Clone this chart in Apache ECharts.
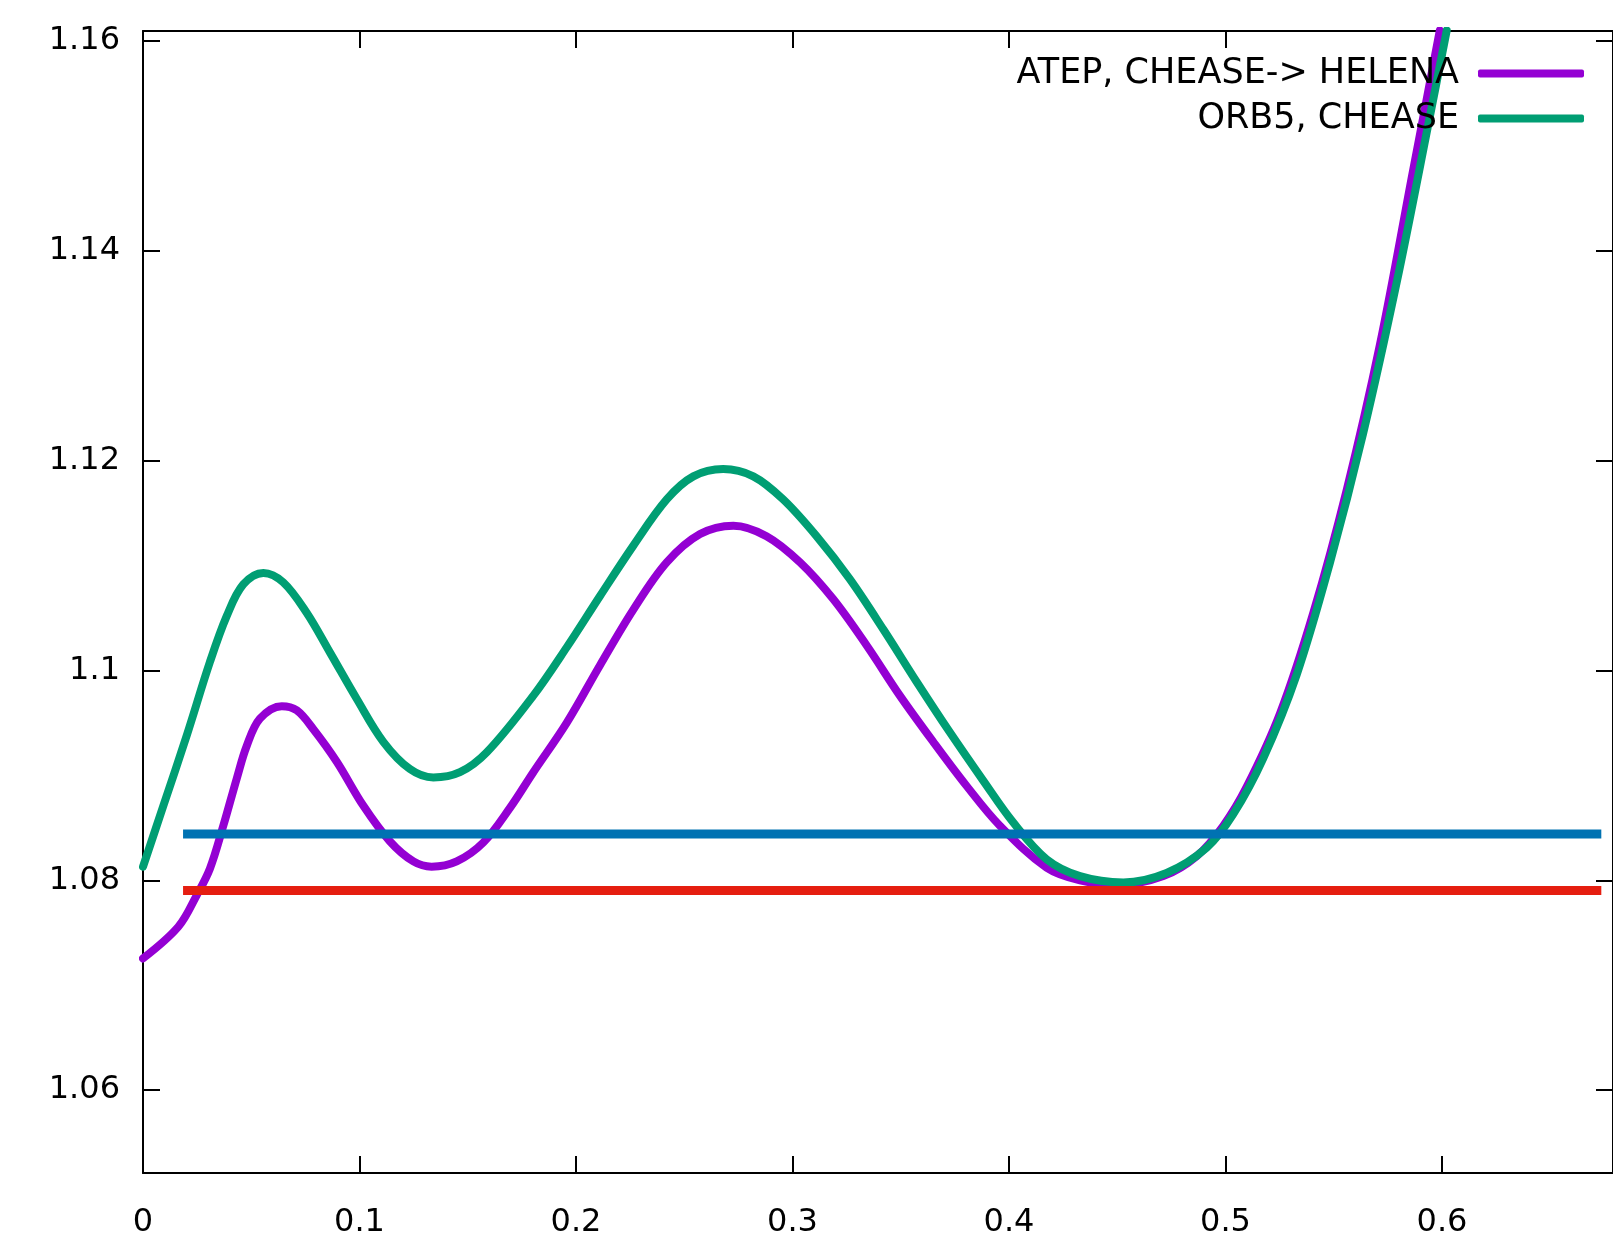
<!DOCTYPE html>
<html>
<head>
<meta charset="utf-8">
<script src="https://cdn.jsdelivr.net/npm/echarts@6/dist/echarts.min.js"></script>
<style>
html,body{margin:0;padding:0;background:#fff;}
#chart{width:1613px;height:1239px;}
</style>
</head>
<body>
<div id="chart"></div>
<script>
// ---- data ----
const atepName = 'ATEP, CHEASE-> HELENA';
const orb5Name = 'ORB5, CHEASE';
const atepX = [0, 0.0163, 0.0248, 0.0309, 0.0371, 0.0433, 0.0479, 0.054, 0.0641, 0.071, 0.0787, 0.0895, 0.1018, 0.1141, 0.1249, 0.1333, 0.1449, 0.1572, 0.1695, 0.1803, 0.1957, 0.2111, 0.2265, 0.2419, 0.2573, 0.2727, 0.288, 0.3035, 0.3188, 0.3342, 0.3496, 0.365, 0.3804, 0.3958, 0.4174, 0.4328, 0.4513, 0.4713, 0.4867, 0.499, 0.5098, 0.5252, 0.5406, 0.556, 0.5714, 0.5867, 0.599];
const atepY = [1.07255, 1.07557, 1.07857, 1.0811, 1.0852, 1.0897, 1.0928, 1.0954, 1.0966, 1.0962, 1.0944, 1.0913, 1.0871, 1.0837, 1.0818, 1.0813, 1.0818, 1.0836, 1.0869, 1.0903, 1.0950, 1.1005, 1.1058, 1.1103, 1.1130, 1.1138, 1.1128, 1.1103, 1.1068, 1.1024, 1.0976, 1.0932, 1.0890, 1.0852, 1.0812, 1.0800, 1.0796, 1.0804, 1.0823, 1.0852, 1.0889, 1.0959, 1.1055, 1.1172, 1.1311, 1.1477, 1.161];
const orb5X = [0, 0.0094, 0.0202, 0.0309, 0.0387, 0.0463, 0.0556, 0.0648, 0.0756, 0.0864, 0.0987, 0.111, 0.1233, 0.1341, 0.1464, 0.1588, 0.1803, 0.1957, 0.2111, 0.2265, 0.2419, 0.2542, 0.268, 0.2819, 0.2957, 0.3111, 0.3265, 0.342, 0.3574, 0.3727, 0.3881, 0.402, 0.4174, 0.4328, 0.4528, 0.4728, 0.4913, 0.5036, 0.5174, 0.5329, 0.5483, 0.5636, 0.5791, 0.5945, 0.6022];
const orb5Y = [1.0813, 1.0871, 1.0938, 1.1008, 1.1052, 1.1082, 1.1093, 1.1084, 1.1055, 1.1017, 1.0973, 1.0932, 1.0906, 1.0898, 1.0903, 1.0922, 1.0976, 1.1022, 1.1071, 1.1119, 1.1163, 1.1185, 1.1192, 1.1185, 1.1163, 1.1128, 1.1087, 1.1039, 1.0989, 1.0941, 1.0895, 1.0855, 1.0820, 1.0804, 1.0798, 1.0807, 1.0831, 1.0863, 1.0916, 1.0996, 1.1103, 1.1226, 1.1370, 1.1529, 1.161];
const refLineX = [0.0185, 0.6736];
const blueLevel = 1.08441;
const redLevel = 1.07902;
const yTicks = [1.06, 1.08, 1.10, 1.12, 1.14, 1.16];
const xTicks = [0, 0.1, 0.2, 0.3, 0.4, 0.5, 0.6];

// ---- chart ----
const FONT = '"DejaVu Sans", sans-serif';
const zip = (xs, ys) => xs.map((x, i) => [x, ys[i]]);
const chart = echarts.init(document.getElementById('chart'), null, {renderer: 'canvas'});
const axisLineStyle = {color: '#000', width: 2};
const tickStyle = {color: '#000', width: 2};
const xRange = {min: 0, max: 0.679};
const yRange = {min: 1.0521, max: 1.16095};
const legendText = {fontFamily: FONT, fontSize: 35, color: '#000', padding: [0, 14, 0, 0]};

chart.setOption({
  backgroundColor: '#ffffff',
  animation: false,
  grid: {left: 143, top: 31, right: 0, bottom: 64, containLabel: false},
  legend: [
    {
      data: [{name: atepName, icon: 'roundRect'}], orient: 'vertical', align: 'right', right: 24, top: 51,
      itemWidth: 106, itemHeight: 8, selectedMode: false, textStyle: legendText
    },
    {
      data: [{name: orb5Name, icon: 'roundRect'}], orient: 'vertical', align: 'right', right: 24, top: 96,
      itemWidth: 106, itemHeight: 8, selectedMode: false, textStyle: legendText
    }
  ],
  xAxis: [
    {
      type: 'value', position: 'bottom', ...xRange, interval: 0.1,
      axisLine: {show: true, onZero: false, lineStyle: axisLineStyle},
      axisTick: {show: true, inside: true, length: 17, lineStyle: tickStyle, customValues: xTicks},
      axisLabel: {fontFamily: FONT, fontSize: 32, color: '#000', margin: 34, customValues: xTicks,
        formatter: v => String(+v.toFixed(2))},
      splitLine: {show: false}
    },
    {
      type: 'value', position: 'top', ...xRange, interval: 0.1,
      axisLine: {show: true, onZero: false, lineStyle: axisLineStyle},
      axisTick: {show: true, inside: true, length: 17, lineStyle: tickStyle, customValues: xTicks},
      axisLabel: {show: false},
      splitLine: {show: false}
    }
  ],
  yAxis: [
    {
      type: 'value', position: 'left', ...yRange,
      axisLine: {show: true, onZero: false, lineStyle: axisLineStyle},
      axisTick: {show: true, inside: true, length: 17, lineStyle: tickStyle, customValues: yTicks},
      axisLabel: {fontFamily: FONT, fontSize: 32, color: '#000', margin: 23, customValues: yTicks,
        formatter: v => String(+v.toFixed(2))},
      splitLine: {show: false}
    },
    {
      type: 'value', position: 'right', ...yRange,
      axisLine: {show: true, onZero: false, lineStyle: axisLineStyle},
      axisTick: {show: true, inside: true, length: 17, lineStyle: tickStyle, customValues: yTicks},
      axisLabel: {show: false},
      splitLine: {show: false}
    }
  ],
  series: [
    {
      name: atepName, type: 'line', data: zip(atepX, atepY), showSymbol: false, symbol: 'none',
      smooth: 0.35, lineStyle: {color: '#9400d3', width: 8, cap: 'round', join: 'round'}, itemStyle: {color: '#9400d3'}, z: 2
    },
    {
      name: orb5Name, type: 'line', data: zip(orb5X, orb5Y), showSymbol: false, symbol: 'none',
      smooth: 0.35, lineStyle: {color: '#009e73', width: 8, cap: 'round', join: 'round'}, itemStyle: {color: '#009e73'}, z: 3
    },
    {
      name: 'ref-blue', type: 'line', data: refLineX.map(x => [x, blueLevel]), showSymbol: false, symbol: 'none',
      lineStyle: {color: '#0072b2', width: 9, cap: 'butt'}, itemStyle: {color: '#0072b2'}, z: 4
    },
    {
      name: 'ref-red', type: 'line', data: refLineX.map(x => [x, redLevel]), showSymbol: false, symbol: 'none',
      lineStyle: {color: '#e51e10', width: 9, cap: 'butt'}, itemStyle: {color: '#e51e10'}, z: 5
    }
  ]
});
</script>
</body>
</html>
